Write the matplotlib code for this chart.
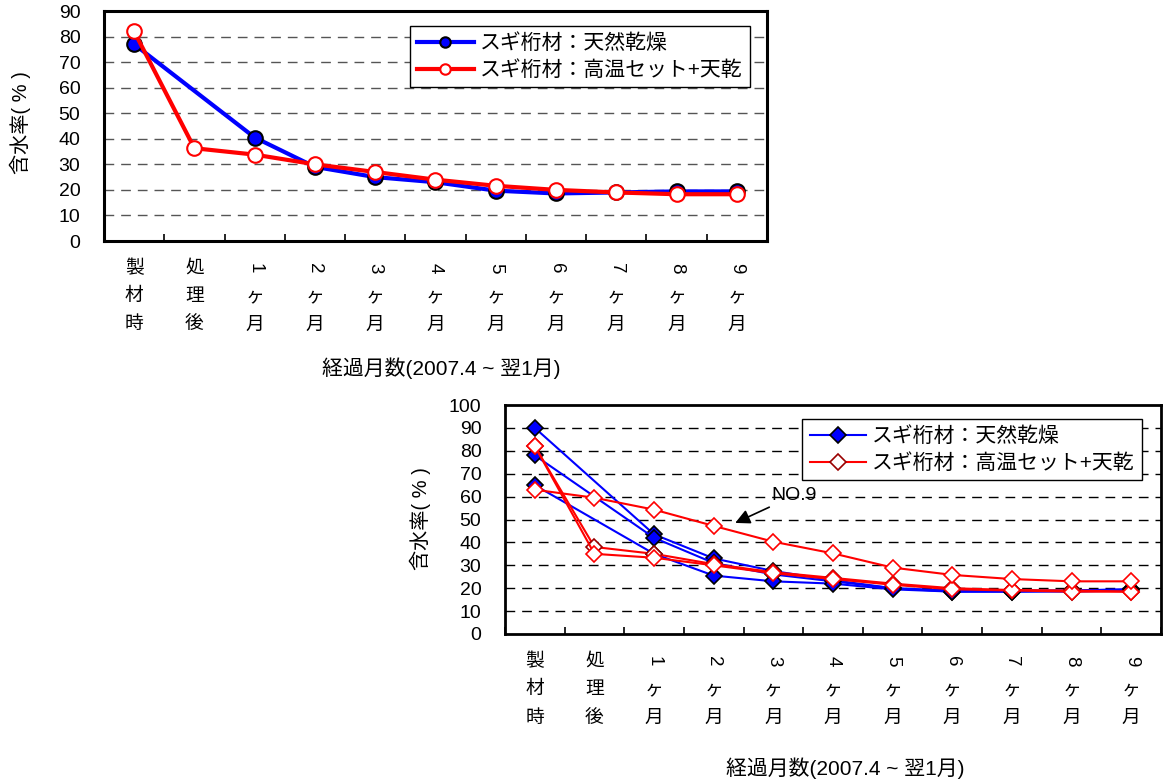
import numpy as np
import matplotlib
matplotlib.use('Agg')
import matplotlib.pyplot as plt

plt.rcParams['font.family'] = ['Liberation Sans', 'Noto Sans CJK JP']

cats = ['製材時', '処理後', '1ヶ月', '2ヶ月', '3ヶ月', '4ヶ月', '5ヶ月',
        '6ヶ月', '7ヶ月', '8ヶ月', '9ヶ月']
nan = np.nan

# 上段：平均値
top_natural = [77, nan, 40.5, 29, 25, 23, 19.7, 18.6, 19, 19.4, 19.4]
top_heat = [82, 36.3, 33.8, 30, 27, 24, 21.6, 20, 19, 18.3, 18.3]

# 下段：個別試験体
nat1 = [90, nan, 43.5, 33, 27.5, 23.5, 20, 18.5, 18.5, 19, 19.5]
nat2 = [78, nan, 42, 31, 26, 23, 20, 19, 19, 19, 19.5]
nat3 = [65, nan, 35, 25.5, 23, 22, 19.5, 18.5, 18.5, 18.5, 19]
heat_no9 = [63, 59.5, 54.3, 47.2, 40.3, 35.2, 29, 25.8, 24, 23, 23]
heat2 = [82, 38, 35, 30.5, 27, 24.5, 22, 20, 19.2, 19, 18.5]
heat3 = [82, 35, 33.3, 30, 26.5, 24, 21.5, 19.5, 19, 18.5, 18.5]

lab_nat = 'スギ桁材：天然乾燥'
lab_heat = 'スギ桁材：高温セット+天乾'
ylab = '含水率( % )'
xlab = '経過月数(2007.4 ~ 翌1月)'

W, H = 1163, 784
fig = plt.figure(figsize=(W / 100, H / 100), dpi=100)


def px_axes(left, top, right, bottom):
    return fig.add_axes([left / W, 1 - bottom / H, (right - left) / W, (bottom - top) / H])


def plot_series(ax, vals, **kw):
    x = np.arange(len(vals))
    y = np.array(vals, dtype=float)
    ok = ~np.isnan(y)
    ax.plot(x[ok], y[ok], **kw)


def style_axes(ax, ymax, gridcolor, spine_w):
    ax.set_xlim(-0.5, len(cats) - 0.5)
    ax.set_ylim(0, ymax)
    ax.set_yticks(np.arange(0, ymax + 1, 10))
    ax.set_xticks(np.arange(-0.5, len(cats), 1))
    ax.set_xticklabels([])
    ax.tick_params(axis='x', direction='in', length=5, width=1.2)
    ax.tick_params(axis='y', length=0, pad=17, labelsize=14)
    for yv in np.arange(10, ymax, 10):
        ax.axhline(yv, color=gridcolor, lw=1, ls=(0, (7, 5)), zorder=1)
    for s in ax.spines.values():
        s.set_linewidth(spine_w)
        s.set_color('black')
    # 縦書きの項目ラベル（数字は横倒し）
    for i, lab in enumerate(cats):
        for j, ch in enumerate(lab):
            rot = 270 if ch.isdigit() else 0
            ax.annotate(ch, xy=(i, 0), xycoords=('data', 'axes fraction'),
                        xytext=(0, -27 - 28.5 * j), textcoords='offset pixels',
                        ha='center', va='center', rotation=rot, fontsize=13.5,
                        annotation_clip=False)


def make_legend(ax, anchor):
    leg = ax.legend(loc='upper right', bbox_to_anchor=anchor, borderaxespad=0,
                    fontsize=15, fancybox=False, framealpha=1, edgecolor='black',
                    handlelength=2.7, handletextpad=0.3, labelspacing=0.35,
                    borderpad=0.35)
    leg.get_frame().set_linewidth(1)
    return leg


# ---- 上段 ----
ax1 = px_axes(104, 11, 767, 241)
style_axes(ax1, 90, '#555555', 2.2)
plot_series(ax1, top_natural, color='#0000ff', lw=3, marker='o', ms=10.5,
            mfc='#0000ff', mec='black', mew=1.5, label=lab_nat, zorder=3)
plot_series(ax1, top_heat, color='#ff0000', lw=3, marker='o', ms=10.5,
            mfc='white', mec='#ff0000', mew=1.5, label=lab_heat, zorder=4)
leg1 = make_legend(ax1, (0.974, 0.935))
for h in leg1.legend_handles:
    h.set_markersize(7.5)

fig.text(20 / W, 1 - 123 / H, ylab, rotation=90, ha='center', va='center', fontsize=14.5)
fig.text(441 / W, 1 - 368 / H, xlab, ha='center', va='center', fontsize=15)

# ---- 下段 ----
ax2 = px_axes(505, 405, 1161, 634)
style_axes(ax2, 100, 'black', 2)
for k, vals in enumerate([nat1, nat2, nat3]):
    plot_series(ax2, vals, color='#0000ff', lw=1.5, marker='D', ms=8,
                mfc='#0000ff', mec='black', mew=1.2,
                label=lab_nat if k == 0 else None, zorder=3)
plot_series(ax2, heat2, color='#ff0000', lw=1.5, marker='D', ms=8,
            mfc='white', mec='#990000', mew=1.2, label=lab_heat, zorder=4)
for vals in [heat3, heat_no9]:
    plot_series(ax2, vals, color='#ff0000', lw=1.5, marker='D', ms=8,
                mfc='white', mec='#ff0000', mew=1.2, zorder=4)
make_legend(ax2, (0.971, 0.939))

ax2.annotate('NO.9', xy=(3.36, 48.5), xytext=(3.96, 60.3), fontsize=14,
             ha='left', va='center',
             arrowprops=dict(arrowstyle='-|>', color='black', lw=1.2,
                             mutation_scale=22, shrinkA=0, shrinkB=0))

fig.text(420 / W, 1 - 519 / H, ylab, rotation=90, ha='center', va='center', fontsize=14.5)
fig.text(845 / W, 1 - 768 / H, xlab, ha='center', va='center', fontsize=15)

fig.savefig('out.png', dpi=100)
